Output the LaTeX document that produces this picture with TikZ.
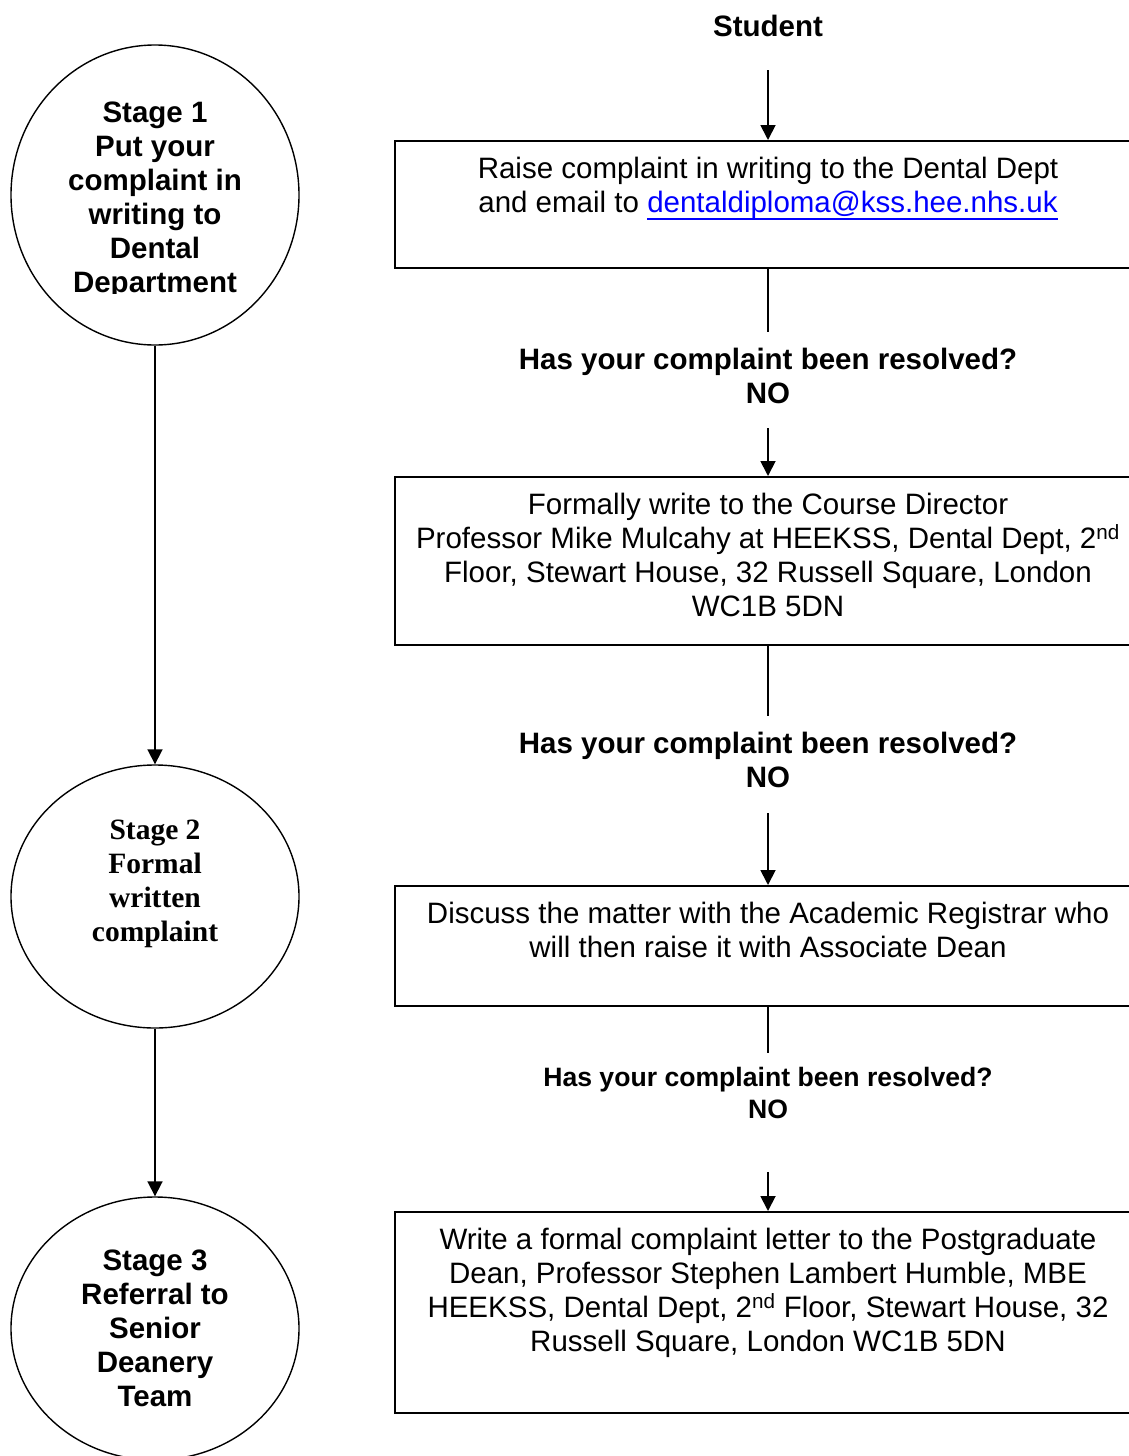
\documentclass[tikz,border=0pt]{standalone}
\usepackage{fontspec}
\setmainfont{Liberation Sans}
\newfontfamily\timesbold{Liberation Serif}
\usetikzlibrary{arrows.meta,shapes.geometric}
\newcommand{\bodysize}{\fontsize{29.5}{34}\selectfont}
\newcommand{\smallq}{\fontsize{26.6}{32}\selectfont}
\newcommand{\boxtext}[2]{\parbox[c][#1][t]{746pt}{\centering\rule{0pt}{37.5pt}#2}}
\newsavebox\mailbox
\newcommand{\mailline}[1]{\sbox\mailbox{#1}\rlap{\rule[-7.5pt]{\wd\mailbox}{2.5pt}}\usebox\mailbox}

\begin{document}
\begin{tikzpicture}[x=1pt,y=-1pt,
  stage/.style={ellipse,draw,line width=1.4pt,minimum width=288pt,inner sep=0pt},
  stagetext/.style={align=center,font=\bodysize\bfseries},
  panel/.style={draw,line width=2pt,inner sep=0pt,font=\bodysize},
  query/.style={align=center,inner sep=0pt,font=\bodysize\bfseries},
  link/.style={line width=1.6pt},
  flow/.style={line width=1.8pt,-{Triangle[length=15pt,width=15pt]}}]
  \useasboundingbox (0,0) rectangle (1129,1456);
  % stages on the left
  \node[stage,minimum height=300pt] (st1) at (155,195) {};
  \begin{scope}
    \clip (0,0) rectangle (320,293);
    \node[stagetext] (st1txt) at (155,200) {Stage 1\\Put your\\complaint in\\writing to\\Dental\\Department};
  \end{scope}
  \node[stage,minimum height=263pt] (st2) at (155,896.5) {};
  \node[stagetext,font=\bodysize\timesbold\bfseries] (st2txt) at (155,883.5) {Stage 2\\Formal\\written\\complaint};
  \node[stage,minimum height=263pt] (st3) at (155,1328.5) {};
  \node[stagetext] (st3txt) at (155,1328) {Stage 3\\Referral to\\Senior\\Deanery\\Team};
  \draw[flow] (st1) -- (st2);
  \draw[flow] (st2) -- (st3);
  % steps on the right
  \node[query] (student) at (768,26) {Student};
  \node[panel] (box1) at (768,204.5) {\boxtext{127pt}{Raise complaint in writing to the Dental Dept\\and email to \textcolor{blue}{\mailline{dentaldiploma@kss.hee.nhs.uk}}}};
  \node[query] (q1) at (768,376) {Has your complaint been resolved?\\NO};
  \node[panel] (box2) at (768,561) {\boxtext{168pt}{Formally write to the Course Director\\Professor Mike Mulcahy at HEEKSS, Dental Dept, 2\textsuperscript{nd}\\Floor, Stewart House, 32 Russell Square, London\\WC1B 5DN}};
  \node[query] (q2) at (768,760) {Has your complaint been resolved?\\NO};
  \node[panel] (box3) at (768,946) {\boxtext{120pt}{Discuss the matter with the Academic Registrar who\\will then raise it with Associate Dean}};
  \node[query,font=\smallq\bfseries] (q3) at (768,1093) {Has your complaint been resolved?\\NO};
  \node[panel] (box4) at (768,1312.5) {\boxtext{201pt}{Write a formal complaint letter to the Postgraduate\\Dean, Professor Stephen Lambert Humble, MBE\\HEEKSS, Dental Dept, 2\textsuperscript{nd} Floor, Stewart House, 32\\Russell Square, London WC1B 5DN}};
  \draw[flow,shorten <=33pt] (student) -- (box1);
  \draw[link,shorten >=15.5pt] (box1) -- (q1);
  \draw[flow,shorten <=24pt] (q1) -- (box2);
  \draw[link,shorten >=15.5pt] (box2) -- (q2);
  \draw[flow,shorten <=25pt] (q2) -- (box3);
  \draw[link,shorten >=14.5pt] (box3) -- (q3);
  \draw[flow,shorten <=53pt] (q3) -- (box4);
\end{tikzpicture}
\end{document}
